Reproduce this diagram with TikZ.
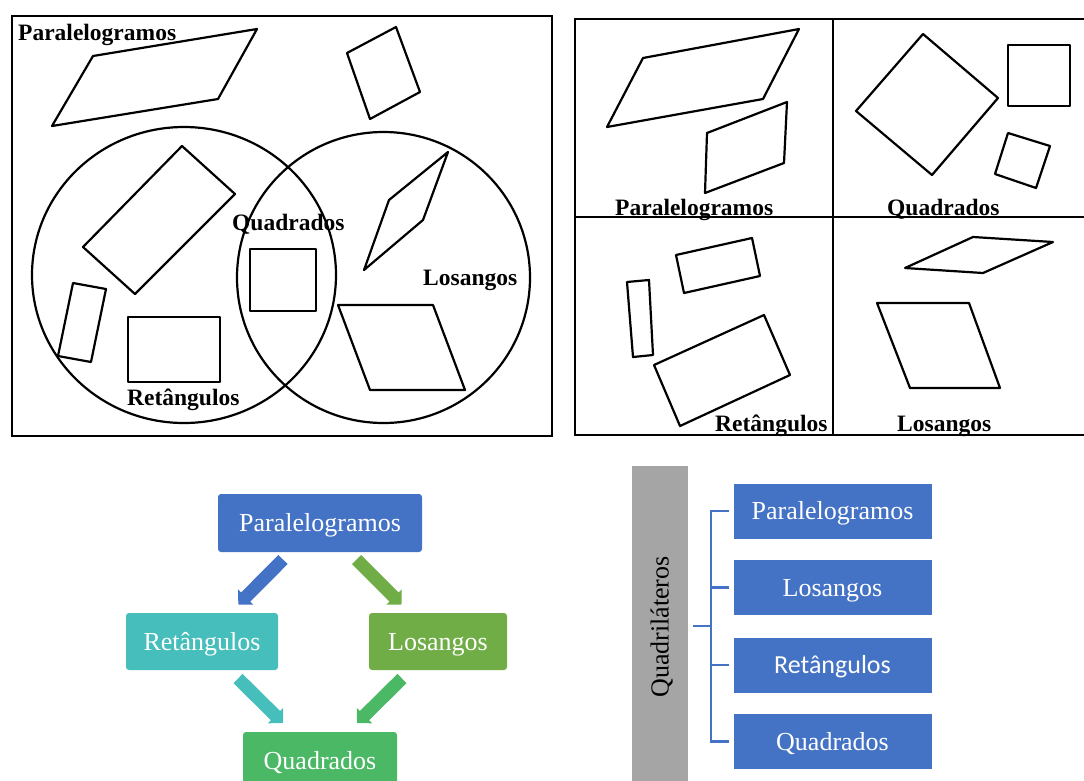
\documentclass[tikz,border=0pt]{standalone}
\usepackage{fontspec}
\setmainfont{Liberation Serif}
\newfontfamily\calibrifont{Carlito}
\usetikzlibrary{arrows.meta}
\definecolor{cblue}{RGB}{68,114,196}
\definecolor{cteal}{RGB}{70,190,187}
\definecolor{colive}{RGB}{112,173,71}
\definecolor{cgreen}{RGB}{74,184,100}
\definecolor{cgray}{RGB}{165,165,165}
\begin{document}
\begin{tikzpicture}[x=1pt,y=-1pt,
  sketch/.style={draw=black,line width=2.2pt,line join=round},
  frame/.style={draw=black,line width=2.4pt},
  grid/.style={draw=black,line width=2.2pt},
  lbl/.style={font=\fontsize{23.5}{28}\selectfont\bfseries,anchor=base west,inner sep=0pt},
  box/.style={rounded corners=3pt,text=white,inner sep=0pt,
    font=\fontsize{26}{30}\selectfont,text height=17.2pt,text depth=0pt},
  tbox/.style={draw=white,line width=0.8pt,fill=cblue,text=white,inner sep=0pt,
    minimum width=199pt,minimum height=56pt,
    font=\fontsize{26}{30}\selectfont,text height=17.2pt,text depth=0pt},
  barrow/.style={line width=13pt,-{Triangle[width=21pt,length=10.5pt]}},
  brk/.style={draw=cblue,line width=2.6pt}]
\useasboundingbox (0,0) rectangle (1084,780);
\clip (0,0) rectangle (1084,780);

% ---------- Venn diagram ----------
\draw[frame] (12,16) rectangle (552,436);
\draw[sketch] (184,275) ellipse [x radius=152, y radius=148];
\draw[sketch] (383.5,277.5) ellipse [x radius=146.5, y radius=145.5];
\draw[sketch] (52,126) -- (93,56) -- (257,29) -- (218,99) -- cycle;
\draw[sketch] (347,53) -- (396,27) -- (420,92) -- (370,119) -- cycle;
\draw[sketch] (182,146) -- (235,194) -- (135,294) -- (83,247) -- cycle;
\draw[sketch] (73,283) -- (106,289) -- (91,362) -- (58,356) -- cycle;
\draw[sketch] (128,317) rectangle (220,382);
\draw[sketch] (250,249) rectangle (316,311);
\draw[sketch] (448,152) -- (423,220) -- (364,270) -- (389,200) -- cycle;
\draw[sketch] (338,305) -- (433,305) -- (465,390) -- (370,390) -- cycle;
\node[lbl] (vpar) at (18,40) {Paralelogramos};
\node[lbl] (vquad) at (232,230) {Quadrados};
\node[lbl] (vlos) at (423,285) {Losangos};
\node[lbl] (vret) at (127,405) {Retângulos};

% ---------- four-panel grid ----------
\draw[grid] (1084,19) -- (575,19) -- (575,435) -- (1084,435);
\draw[grid] (833,19) -- (833,435);
\draw[grid] (575,217) -- (1084,217);
% parallelograms
\draw[sketch] (607,127) -- (643,58) -- (799,29) -- (763,99) -- cycle;
\draw[sketch] (707,133) -- (787,102) -- (784,163) -- (705,193) -- cycle;
% squares
\draw[sketch] (923,34) -- (998,98) -- (932,175) -- (856,111) -- cycle;
\draw[sketch] (1008,45) rectangle (1070,106);
\draw[sketch] (1008,133) -- (1050,146) -- (1036,188) -- (995,174) -- cycle;
% rectangles
\draw[sketch] (676,255) -- (752,238) -- (760,276) -- (684,293) -- cycle;
\draw[sketch] (627,282) -- (649,280) -- (653,355) -- (633,357) -- cycle;
\draw[sketch] (654,365) -- (764,315) -- (790,375) -- (680,426) -- cycle;
% rhombi
\draw[sketch] (905,268) -- (973,237) -- (1053,242) -- (983,273) -- cycle;
\draw[sketch] (877,303) -- (969,303) -- (1000,388) -- (910,388) -- cycle;
\node[lbl] (gpar) at (615,215) {Paralelogramos};
\node[lbl] (gquad) at (887,215) {Quadrados};
\node[lbl] (gret) at (715,431) {Retângulos};
\node[lbl] (glos) at (897,431) {Losangos};

% ---------- hierarchy ----------
\node[box,fill=cblue,minimum width=204pt,minimum height=58pt] (p) at (320,523) {Paralelogramos};
\node[box,fill=cteal,minimum width=152pt,minimum height=57pt] (r) at (202,641.5) {Retângulos};
\node[box,fill=colive,minimum width=138pt,minimum height=57pt] (l) at (438,641.5) {Losangos};
\node[box,fill=cgreen,minimum width=154pt,minimum height=58pt] (qd) at (320,761) {Quadrados};
\coordinate (a1s) at (283,559.5); \coordinate (a1e) at (238.3,604.5);
\coordinate (a2s) at (356.5,559.5); \coordinate (a2e) at (401.5,604.5);
\coordinate (a3s) at (238,678.5); \coordinate (a3e) at (283,723);
\coordinate (a4s) at (402,678.5); \coordinate (a4e) at (357,723);
\draw[barrow,draw=cblue,fill=cblue] (a1s) -- (a1e);
\draw[barrow,draw=colive,fill=colive] (a2s) -- (a2e);
\draw[barrow,draw=cteal,fill=cteal] (a3s) -- (a3e);
\draw[barrow,draw=cgreen,fill=cgreen] (a4s) -- (a4e);

% ---------- bracket list ----------
\node[fill=cgray,rotate=90,inner sep=0pt,minimum width=322pt,minimum height=56pt,
  font=\fontsize{26}{30}\selectfont,text height=17.2pt,text depth=0pt] (q) at (660,627) {Quadriláteros};
\node[tbox] (t1) at (832.5,511) {Paralelogramos};
\node[tbox] (t2) at (832.5,587.5) {Losangos};
\node[tbox,text height=16.7pt] (t3) at (832.5,665) {\calibrifont Retângulos};
\node[tbox] (t4) at (832.5,741.5) {Quadrados};
\coordinate (br) at (711,626);
\draw[brk] ([xshift=5pt]q.south |- br) -- (br);
\draw[brk] ([xshift=-4pt]t1.west) -| (br) |- ([xshift=-4pt]t4.west);
\draw[brk] ([xshift=-4pt]t2.west) -- (t2.west -| br);
\draw[brk] ([xshift=-4pt]t3.west) -- (t3.west -| br);
\end{tikzpicture}
\end{document}
